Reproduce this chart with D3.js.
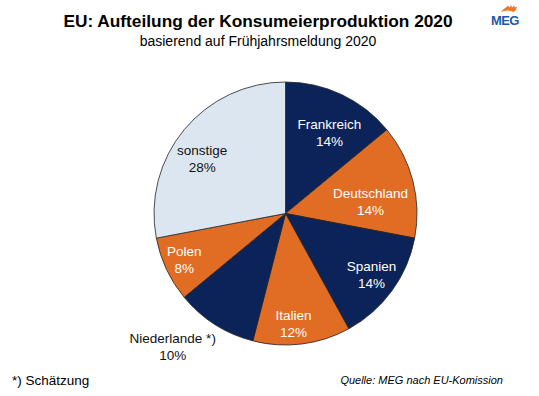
<!DOCTYPE html>
<html>
<head>
<meta charset="utf-8">
<script src="https://cdn.jsdelivr.net/npm/d3@7"></script>
<style>
  body { margin: 0; background: #fff; }
  text { font-family: "Liberation Sans", Arial, sans-serif; }
</style>
</head>
<body>
<div id="chart"></div>
<script>
// data
const countries = ["Frankreich", "Deutschland", "Spanien", "Italien", "Niederlande *)", "Polen", "sonstige"]
const shares = [14, 14, 14, 12, 10, 8, 28]
const sliceColors = ["#0c235a", "#e16d25", "#0c235a", "#e16d25", "#0c235a", "#e16d25", "#dce6f1"]
const labelColors = ["#fff", "#fff", "#fff", "#fff", "#111", "#fff", "#111"]

const width = 539, height = 396
const cx = 285.5, cy = 213.5, radius = 131.5

// label placement (radius, angle shift in degrees) per slice
const labelPos = [[93, 3], [86, 6], [105, -1], [110, 3], [174, 8], [111, 1], [100, -6]]

const svg = d3.select("#chart")
  .append("svg")
    .attr("width", width)
    .attr("height", height)

// title
svg.append("text")
  .attr("x", 258).attr("y", 27)
  .attr("text-anchor", "middle")
  .style("font-size", "17.3px").style("font-weight", "bold")
  .text("EU: Aufteilung der Konsumeierproduktion 2020")
svg.append("text")
  .attr("x", 258).attr("y", 46)
  .attr("text-anchor", "middle")
  .style("font-size", "14px")
  .text("basierend auf Frühjahrsmeldung 2020")

// logo
const logo = svg.append("g").attr("transform", "translate(491,25)")
logo.append("path")
  .attr("d", "M10,-13 C12,-16 15,-17 17,-19.5 L18.5,-17.5 L20,-19.5 L21.5,-17.5 L23,-19.5 L24,-17.5 L26,-18.5 C25.5,-15.5 24,-14 22.5,-13 C18,-15 14,-15 10,-13 Z")
  .style("fill", "#ef7622")
logo.append("text")
  .attr("x", 0).attr("y", 0)
  .style("font-size", "13px").style("font-weight", "bold")
  .style("letter-spacing", "-0.6px")
  .style("fill", "#1d5aa3")
  .text("MEG")

// pie
const pie = d3.pie().sort(null).value(d => d)
const arcs = pie(shares)
const arc = d3.arc().innerRadius(0).outerRadius(radius)

const g = svg.append("g").attr("transform", `translate(${cx},${cy})`)

g.selectAll("path")
  .data(arcs)
  .join("path")
    .attr("d", arc)
    .style("fill", (d, i) => sliceColors[i])
    .style("stroke", "#222")
    .style("stroke-width", 0.8)

const labels = g.selectAll("text.lbl")
  .data(arcs)
  .join("text")
    .attr("class", "lbl")
    .attr("text-anchor", "middle")
    .style("font-size", "13.5px")
    .style("fill", (d, i) => labelColors[i])
    .attr("transform", (d, i) => {
      const a = (d.startAngle + d.endAngle) / 2 + labelPos[i][1] * Math.PI / 180
      const r = labelPos[i][0]
      return `translate(${r * Math.sin(a)},${-r * Math.cos(a)})`
    })

labels.append("tspan").attr("x", 0).attr("y", -3).text((d, i) => countries[i])
labels.append("tspan").attr("x", 0).attr("y", 14).text(d => d.data + "%")

// footer
svg.append("text")
  .attr("x", 12).attr("y", 385)
  .style("font-size", "13.5px")
  .text("*) Schätzung")
svg.append("text")
  .attr("x", 503).attr("y", 384)
  .attr("text-anchor", "end")
  .style("font-size", "11px").style("font-style", "italic")
  .text("Quelle: MEG nach EU-Komission")
</script>
</body>
</html>
